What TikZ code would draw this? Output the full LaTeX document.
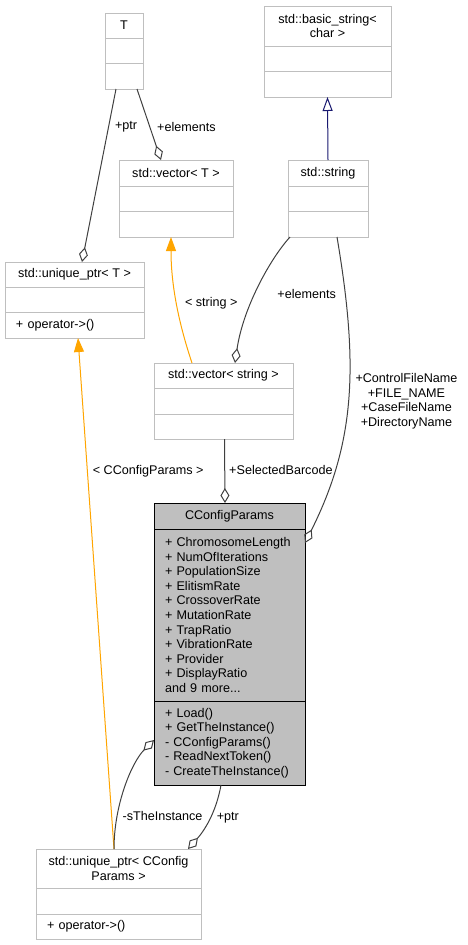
\documentclass[tikz,border=0pt]{standalone}
\usepackage{fontspec}
\setmainfont{Liberation Sans}
\usetikzlibrary{positioning,arrows.meta}
\definecolor{boxgray}{HTML}{BFBFBF}
\definecolor{edgegray}{HTML}{404040}
\definecolor{inhblue}{HTML}{191970}
\definecolor{tmplorange}{HTML}{FFA500}
\begin{document}
\begin{tikzpicture}[x=1pt, y=-1pt,
  font=\fontsize{12.6}{14.6}\selectfont,
  cls/.style={draw=boxgray, fill=white, line width=0.9pt, inner sep=0pt,
              outer sep=0pt, align=center},
  hl/.style={cls, draw=black, fill=boxgray},
  mem/.style={inner xsep=11pt, align=left},
  agg/.style={draw=edgegray, line width=1pt,
              -{Diamond[open, length=15pt, width=9pt]}},
  inh/.style={draw=inhblue, line width=1pt,
              -{Triangle[open, length=14pt, width=10pt]}},
  tmpl/.style={draw=tmplorange, line width=1pt,
               -{Triangle[length=14pt, width=10pt]}},
  lbl/.style={inner sep=2pt}
]
  \useasboundingbox (0,0) rectangle (467,945);
  % Classes
  \node[cls, minimum width=38pt, minimum height=25pt] (Tt) at (124,25.5) {T};
  \node[cls, minimum width=38pt, minimum height=25pt, below=0pt of Tt] (Ta) {};
  \node[cls, minimum width=38pt, minimum height=26pt, below=0pt of Ta] (Tm) {};

  \node[cls, minimum width=127pt, minimum height=40pt] (BSt) at (327.5,26)
       {std::basic\_string<\\char >};
  \node[cls, minimum width=127pt, minimum height=25pt, below=0pt of BSt] (BSa) {};
  \node[cls, minimum width=127pt, minimum height=26pt, below=0pt of BSa] (BSm) {};

  \node[cls, minimum width=114pt, minimum height=26pt] (VTt) at (176,173)
       {std::vector< T >};
  \node[cls, minimum width=114pt, minimum height=25pt, below=0pt of VTt] (VTa) {};
  \node[cls, minimum width=114pt, minimum height=26pt, below=0pt of VTa] (VTm) {};

  \node[cls, minimum width=80pt, minimum height=26pt] (SSt) at (328,173)
       {std::string};
  \node[cls, minimum width=80pt, minimum height=25pt, below=0pt of SSt] (SSa) {};
  \node[cls, minimum width=80pt, minimum height=26pt, below=0pt of SSa] (SSm) {};

  \node[cls, minimum width=139pt, minimum height=25pt] (UTt) at (74.5,274.5)
       {std::unique\_ptr< T >};
  \node[cls, minimum width=139pt, minimum height=25pt, below=0pt of UTt] (UTa) {};
  \node[cls, mem, text width=117pt, minimum height=26pt, below=0pt of UTa] (UTm)
       {+ operator->()};

  \node[cls, minimum width=139pt, minimum height=25pt] (VSt) at (223.5,375.5)
       {std::vector< string >};
  \node[cls, minimum width=139pt, minimum height=26pt, below=0pt of VSt] (VSa) {};
  \node[cls, minimum width=139pt, minimum height=25pt, below=0pt of VSa] (VSm) {};

  \node[hl, minimum width=151pt, minimum height=26pt] (CCt) at (229.5,516)
       {CConfigParams};
  \node[hl, mem, text width=129pt, minimum height=172pt, below=0pt of CCt] (CCa)
       {+ ChromosomeLength\\+ NumOfIterations\\+ PopulationSize\\+ ElitismRate\\
        + CrossoverRate\\+ MutationRate\\+ TrapRatio\\+ VibrationRate\\+ Provider\\
        + DisplayRatio\\and 9 more...};
  \node[hl, mem, text width=129pt, minimum height=84pt, below=0pt of CCa] (CCm)
       {+ Load()\\+ GetTheInstance()\\- CConfigParams()\\- ReadNextToken()\\
        - CreateTheInstance()};

  \node[cls, minimum width=165pt, minimum height=39pt] (UCt) at (118.5,868.5)
       {std::unique\_ptr< CConfig\\Params >};
  \node[cls, minimum width=165pt, minimum height=26pt, below=0pt of UCt] (UCa) {};
  \node[cls, mem, text width=143pt, minimum height=25pt, below=0pt of UCa] (UCm)
       {+ operator->()};

  % Relations
  \draw[agg] ([xshift=-8pt]Tm.south) -- node[lbl, right, pos=0.22, xshift=4pt] {+ptr}
             ([xshift=7.5pt]UTt.north);
  \draw[agg] ([xshift=13pt]Tm.south) -- node[lbl, right, pos=0.53, xshift=5pt] {+elements}
             ([xshift=-15pt]VTt.north);
  \draw[inh] (SSt.north) -- (BSm.south);
  \draw[tmpl] ([xshift=-31.5pt]VSt.north) .. controls +(-10,-30) and +(0,55) ..
              node[lbl, right, pos=0.55, xshift=6pt] {< string >}
              ([xshift=-5pt]VTm.south);
  \draw[agg] ([xshift=-38pt]SSm.south) .. controls +(-20,22) and +(8,-55) ..
             node[lbl, right, pos=0.55, xshift=20pt] {+elements}
             ([xshift=11.5pt]VSt.north);
  \draw[agg] ([xshift=9pt]SSm.south) .. controls +(22,130) and +(50,-100) ..
             node[lbl, right, pos=0.5, xshift=5pt, align=center]
               {+ControlFileName\\+FILE\_NAME\\+CaseFileName\\+DirectoryName}
             ([yshift=-14pt]CCa.north east);
  \draw[agg] ([xshift=1pt]VSm.south) -- node[lbl, right, pos=0.48, xshift=2pt] {+SelectedBarcode}
             ([xshift=-4.5pt]CCt.north);
  \draw[tmpl] ([xshift=-4.5pt]UCt.north) --
              node[lbl, right, pos=0.74, xshift=3pt] {< CConfigParams >}
              ([xshift=3.5pt]UTm.south);
  \draw[agg] ([xshift=-4.5pt]UCt.north) .. controls +(0,-45) and +(-22,22) ..
             node[lbl, right, pos=0.25, xshift=3pt] {-sTheInstance}
             ([yshift=3pt]CCm.west);
  \draw[agg] ([xshift=-8.5pt]CCm.south) .. controls +(-5,28) and +(16,-18) ..
             node[lbl, right, pos=0.45, xshift=4pt] {+ptr}
             ([xshift=69.5pt]UCt.north);
\end{tikzpicture}
\end{document}
